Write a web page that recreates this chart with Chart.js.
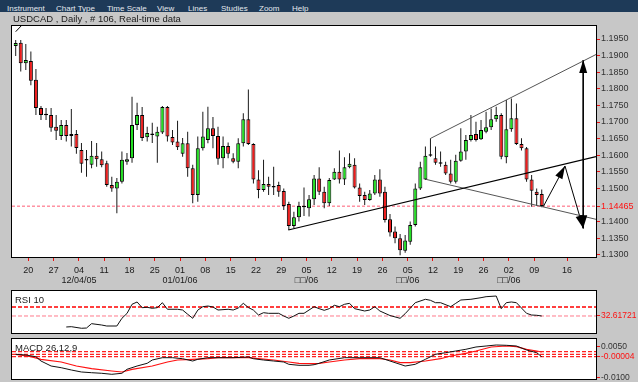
<!DOCTYPE html>
<html>
<head>
<meta charset="utf-8">
<title>USDCAD Daily</title>
<script src="https://cdn.jsdelivr.net/npm/chart.js@4/dist/chart.umd.min.js"></script>
<style>
  html, body { margin: 0; padding: 0; }
  body { position: relative; width: 638px; height: 382px; overflow: hidden; background: #c7c7c7; font-family: "Liberation Sans", Arial, sans-serif; }
  canvas { position: absolute; left: 0; }
  #menu { position: absolute; left: 0; top: 0; width: 638px; height: 12px; background: #1e3a58; overflow: hidden; }
  #menu span { position: absolute; top: 4px; font-size: 8px; line-height: 9px; color: #e4e9ee; white-space: nowrap; }
  #title { position: absolute; left: 13px; top: 13px; font-size: 9.5px; line-height: 11px; color: #1a1a1a; white-space: nowrap; }
  .panel { position: absolute; left: 15px; font-size: 9.5px; line-height: 11px; color: #1a1a1a; white-space: nowrap; }
</style>
</head>
<body>
<canvas id="priceChart" width="638" height="271" style="top:16px"></canvas>
<canvas id="rsiChart" width="638" height="62" style="top:281px"></canvas>
<canvas id="macdChart" width="638" height="62" style="top:329px"></canvas>
<div id="menu">
  <span style="left:7px">Instrument</span>
  <span style="left:56px">Chart Type</span>
  <span style="left:107px">Time Scale</span>
  <span style="left:157px">View</span>
  <span style="left:188px">Lines</span>
  <span style="left:221px">Studies</span>
  <span style="left:259px">Zoom</span>
  <span style="left:292px">Help</span>
</div>
<div id="title">USDCAD , Daily , # 106, Real-time data</div>
<div class="panel" style="top:294px">RSI 10</div>
<div class="panel" style="top:342px">MACD 26,12,9</div>
<script>
Chart.defaults.font.family = '"Liberation Sans", Arial, sans-serif';
Chart.defaults.animation = false;

// daily candles, index 0 = first bar on the left
const candleOpen = [
  1.1929, 1.1939, 1.1877, 1.1884, 1.1827, 1.1742, 1.1721, 1.1721, 1.1686, 1.1658,
  1.1691, 1.1658, 1.1664, 1.1616, 1.1584, 1.1571, 1.1598, 1.1588, 1.1576, 1.1510,
  1.1500, 1.1520, 1.1580, 1.1591, 1.1691, 1.1721, 1.1654, 1.1664, 1.1656, 1.1668,
  1.1745, 1.1655, 1.1641, 1.1604, 1.1636, 1.1561, 1.1480, 1.1621, 1.1646, 1.1681,
  1.1658, 1.1591, 1.1628, 1.1591, 1.1580, 1.1636, 1.1708, 1.1634, 1.1527, 1.1495,
  1.1513, 1.1503, 1.1510, 1.1492, 1.1453, 1.1387, 1.1413, 1.1447, 1.1440, 1.1467,
  1.1530, 1.1490, 1.1455, 1.1527, 1.1550, 1.1527, 1.1564, 1.1571, 1.1503, 1.1480,
  1.1465, 1.1485, 1.1527, 1.1490, 1.1407, 1.1370, 1.1350, 1.1312, 1.1339, 1.1390,
  1.1500, 1.1527, 1.1598, 1.1591, 1.1577, 1.1571, 1.1545, 1.1520, 1.1583, 1.1611,
  1.1646, 1.1664, 1.1648, 1.1671, 1.1684, 1.1708, 1.1721, 1.1594, 1.1678, 1.1711,
  1.1634, 1.1621, 1.1527, 1.1490, 1.1483
];
const candleHigh = [
  1.1947, 1.1947, 1.1935, 1.1912, 1.1860, 1.1748, 1.1742, 1.1742, 1.1721, 1.1706,
  1.1706, 1.1739, 1.1676, 1.1637, 1.1616, 1.1643, 1.1637, 1.1611, 1.1583, 1.1535,
  1.1531, 1.1611, 1.1607, 1.1776, 1.1758, 1.1745, 1.1686, 1.1698, 1.1686, 1.1748,
  1.1748, 1.1676, 1.1704, 1.1652, 1.1671, 1.1571, 1.1656, 1.1731, 1.1746, 1.1715,
  1.1686, 1.1656, 1.1638, 1.1606, 1.1651, 1.1726, 1.1798, 1.1636, 1.1555, 1.1586,
  1.1535, 1.1565, 1.1520, 1.1500, 1.1460, 1.1430, 1.1460, 1.1503, 1.1480, 1.1540,
  1.1564, 1.1505, 1.1531, 1.1561, 1.1614, 1.1594, 1.1606, 1.1591, 1.1515, 1.1490,
  1.1495, 1.1540, 1.1558, 1.1505, 1.1423, 1.1385, 1.1363, 1.1360, 1.1400, 1.1515,
  1.1580, 1.1626, 1.1651, 1.1626, 1.1611, 1.1580, 1.1586, 1.1601, 1.1681, 1.1661,
  1.1721, 1.1701, 1.1706, 1.1731, 1.1741, 1.1746, 1.1726, 1.1766, 1.1771, 1.1756,
  1.1651, 1.1625, 1.1540, 1.1500, 1.1497
];
const candleLow = [
  1.1899, 1.1852, 1.1857, 1.1811, 1.1721, 1.1706, 1.1706, 1.1671, 1.1646, 1.1646,
  1.1641, 1.1626, 1.1604, 1.1547, 1.1535, 1.1561, 1.1565, 1.1564, 1.1505, 1.1490,
  1.1425, 1.1515, 1.1571, 1.1577, 1.1676, 1.1643, 1.1641, 1.1637, 1.1577, 1.1664,
  1.1641, 1.1631, 1.1616, 1.1595, 1.1535, 1.1455, 1.1460, 1.1614, 1.1636, 1.1621,
  1.1571, 1.1561, 1.1591, 1.1576, 1.1561, 1.1626, 1.1631, 1.1515, 1.1470, 1.1490,
  1.1480, 1.1480, 1.1475, 1.1435, 1.1375, 1.1380, 1.1400, 1.1417, 1.1415, 1.1450,
  1.1480, 1.1440, 1.1447, 1.1525, 1.1515, 1.1510, 1.1561, 1.1500, 1.1460, 1.1450,
  1.1463, 1.1480, 1.1475, 1.1397, 1.1355, 1.1335, 1.1299, 1.1306, 1.1330, 1.1385,
  1.1495, 1.1525, 1.1595, 1.1571, 1.1565, 1.1540, 1.1515, 1.1515, 1.1580, 1.1586,
  1.1641, 1.1641, 1.1646, 1.1666, 1.1676, 1.1701, 1.1588, 1.1576, 1.1671, 1.1631,
  1.1614, 1.1520, 1.1445, 1.1447, 1.1443
];
const candleClose = [
  1.1938, 1.1877, 1.1887, 1.1824, 1.1742, 1.1721, 1.1720, 1.1683, 1.1674, 1.1691,
  1.1658, 1.1664, 1.1622, 1.1574, 1.1587, 1.1598, 1.1588, 1.1570, 1.1510, 1.1500,
  1.1520, 1.1586, 1.1588, 1.1691, 1.1721, 1.1652, 1.1667, 1.1661, 1.1671, 1.1745,
  1.1656, 1.1638, 1.1624, 1.1636, 1.1561, 1.1480, 1.1621, 1.1656, 1.1681, 1.1658,
  1.1589, 1.1628, 1.1604, 1.1580, 1.1636, 1.1708, 1.1634, 1.1527, 1.1495, 1.1513,
  1.1505, 1.1507, 1.1490, 1.1447, 1.1387, 1.1413, 1.1447, 1.1443, 1.1467, 1.1530,
  1.1490, 1.1455, 1.1525, 1.1550, 1.1527, 1.1564, 1.1574, 1.1503, 1.1477, 1.1465,
  1.1485, 1.1527, 1.1485, 1.1405, 1.1367, 1.1350, 1.1314, 1.1343, 1.1390, 1.1500,
  1.1564, 1.1598, 1.1601, 1.1577, 1.1574, 1.1545, 1.1520, 1.1583, 1.1611, 1.1646,
  1.1661, 1.1646, 1.1676, 1.1684, 1.1708, 1.1721, 1.1595, 1.1678, 1.1711, 1.1634,
  1.1621, 1.1527, 1.1493, 1.1480, 1.1447
];

// price axis
const priceTicks = [1.1300, 1.1350, 1.1400, 1.14465, 1.1500, 1.1550, 1.1600, 1.1650, 1.1700, 1.1750, 1.1800, 1.1850, 1.1900, 1.1950];
const markPrice = 1.14465;
const priceMin = 1.129337;
const priceMax = 1.198916;

// date axis (ticks sit on Sundays, between Friday and Monday bars)
const dateTickIdx = [2.5, 7.5, 12.5, 17.5, 22.5, 27.5, 32.5, 37.5, 42.5, 47.5, 52.5, 57.5, 62.5, 67.5, 72.5, 77.5, 82.5, 87.5, 92.5, 97.5, 102.5, 109];
const dayLabels = ['20', '27', '04', '11', '18', '25', '01', '08', '15', '22', '29', '05', '12', '19', '26', '05', '12', '19', '26', '02', '09', '16'];
const monthLabels = ['', '', '12/04/05', '', '', '', '01/01/06', '', '', '', '', '\u25A1\u25A1/06', '', '', '', '\u25A1\u25A1/06', '', '', '', '\u25A1\u25A1/06', '', ''];
const xMin = -0.73;
const xMax = 114.73;

// drawn objects: [bar index, price]
const supportLine = [[53.9, 1.13747], [114.73, 1.15955]];
const channelTop = [[82.05, 1.16509], [114.73, 1.19033]];
const channelBottom = [[81.06, 1.15274], [114.73, 1.14069]];
const arrowUp = [[104.3, 1.14449], [108.6, 1.15675]];
const arrowDown = [[108.6, 1.15675], [112.2, 1.13798]];
const arrowRange = [[112.2, 1.18867], [112.2, 1.13798]];
const cornerLine = [[0, 1.19720], [1.25, 1.19922]];

// RSI 10
const rsiIdx = [10, 11, 13, 14, 15, 17, 18, 20, 21, 22, 23, 24, 25, 26, 27, 28, 29, 30, 32, 33,
  34, 35, 36, 37, 38, 39, 40, 42, 43, 44, 45, 46, 47, 48, 49, 50, 52, 53, 54, 55,
  56, 57, 59, 60, 61, 62, 63, 64, 65, 66, 67, 69, 70, 71, 72, 74, 76, 77, 79, 81,
  82, 83, 84, 86, 87, 88, 90, 92, 93, 95, 96, 97, 98, 99, 100, 101, 102, 103, 104];
const rsiVal = [11.4, 12.0, 8.9, 9.4, 17.8, 15.2, 13.3, 13.3, 28.2, 37.5, 55.2, 59.7, 48.7, 49.4, 47.5, 48.7, 58.3, 45.6, 45.6, 44.2,
  36.0, 28.2, 44.0, 50.6, 51.9, 50.0, 44.2, 45.6, 44.2, 48.0, 57.1, 49.0, 44.0, 34.5, 39.0, 37.8, 37.8, 32.6, 28.2, 32.6,
  37.8, 37.8, 50.6, 46.8, 43.6, 46.8, 53.3, 50.6, 55.2, 57.1, 46.8, 42.3, 44.2, 50.6, 42.3, 33.5, 28.2, 37.1, 58.3, 64.9,
  62.9, 58.3, 58.3, 50.6, 57.1, 63.5, 64.9, 68.0, 69.9, 71.2, 46.8, 58.3, 59.7, 58.3, 48.0, 37.8, 34.5, 34.0, 32.61721];
const rsiLast = 32.61721;
const rsiMid = 50;

// MACD 26,12,9
const macdIdx = [0, 2, 4, 5, 7, 9, 11, 13, 15, 17, 19, 21, 22, 24, 26, 27, 29, 31, 33, 35,
  36, 38, 40, 43, 46, 47, 49, 51, 53, 54, 56, 58, 59, 60, 62, 65, 68, 72, 74, 76,
  77, 79, 81, 83, 85, 87, 89, 91, 93, 95, 97, 99, 101, 103, 104];
const macdVal = [0.00111, 0.00077, -0.00005, -0.00213, -0.00455, -0.00537, -0.00649, -0.00745, -0.00779, -0.00808,
  -0.00857, -0.00808, -0.00615, -0.00455, -0.00324, -0.00165, -0.00053, -0.00053, -0.00102, -0.00213,
  -0.00131, -0.00053, -0.00053, -0.00053, -0.00019, -0.00102, -0.00165, -0.00213, -0.00261, -0.00373,
  -0.00421, -0.00421, -0.00392, -0.00324, -0.00165, -0.00053, -0.00053, -0.00053, -0.00213, -0.00373,
  -0.00455, -0.00373, -0.00131, 0.00111, 0.00189, 0.00271, 0.00353, 0.00465, 0.00513, 0.00561,
  0.00547, 0.00513, 0.00319, 0.00189, -0.00004];
const signalIdx = [0, 3, 5, 9, 12, 15, 19, 21, 23, 27, 30, 32, 35, 38, 40, 43, 46, 48, 51, 54,
  56, 59, 60, 62, 65, 68, 72, 74, 76, 78, 81, 84, 86, 89, 91, 94, 97, 99, 101, 103, 104];
const signalVal = [0.00111, -0.00005, -0.00131, -0.00261, -0.00455, -0.00586, -0.00697, -0.00745, -0.00615, -0.00455,
  -0.00261, -0.00165, -0.00131, -0.00102, -0.00053, -0.00053, -0.00053, -0.00102, -0.00165, -0.00261,
  -0.00324, -0.00344, -0.00324, -0.00261, -0.00165, -0.00102, -0.00102, -0.00165, -0.00295, -0.00295,
  -0.00213, -0.00102, 0.00029, 0.0016, 0.00271, 0.00465, 0.00513, 0.00479, 0.00353, 0.00271, 0.00223];
const macdLevels = [0.00237, 0.00111, -0.00004];
const macdTicks = [0.0050, -0.00004, -0.0100];
const macdTickText = ['0.0050', '-0.00004', '-0.0100'];
const macdMin = -0.0108416;
const macdMax = 0.0085184;

const framePlugin = {
  id: 'frame',
  beforeDraw(chart) {
    const { ctx, chartArea: a } = chart;
    ctx.save();
    ctx.fillStyle = '#ffffff';
    ctx.fillRect(a.left, a.top, a.right - a.left, a.bottom - a.top);
    ctx.restore();
  },
  afterDraw(chart) {
    const { ctx, chartArea: a } = chart;
    ctx.save();
    ctx.strokeStyle = '#000000';
    ctx.lineWidth = 1;
    ctx.strokeRect(a.left - 0.5, a.top - 0.5, a.right - a.left + 1, a.bottom - a.top + 1);
    ctx.restore();
  }
};

const arrowPlugin = {
  id: 'arrowHeads',
  afterDatasetsDraw(chart) {
    const ctx = chart.ctx;
    chart.data.datasets.forEach((ds, di) => {
      if (!ds.heads) return;
      const pts = chart.getDatasetMeta(di).data;
      ds.heads.forEach((end) => {
        const tip = end === 'end' ? pts[pts.length - 1] : pts[0];
        const tail = end === 'end' ? pts[pts.length - 2] : pts[1];
        const ang = Math.atan2(tip.y - tail.y, tip.x - tail.x);
        const len = 13, half = 4;
        const bx = tip.x - len * Math.cos(ang);
        const by = tip.y - len * Math.sin(ang);
        ctx.save();
        ctx.fillStyle = '#000000';
        ctx.beginPath();
        ctx.moveTo(tip.x, tip.y);
        ctx.lineTo(bx + half * Math.sin(ang), by - half * Math.cos(ang));
        ctx.lineTo(bx - half * Math.sin(ang), by + half * Math.cos(ang));
        ctx.closePath();
        ctx.fill();
        ctx.restore();
      });
    });
  }
};

function lineSet(points, color, width, extra) {
  return Object.assign({
    type: 'line',
    data: points.map((p) => ({ x: p[0], y: p[1] })),
    borderColor: color,
    borderWidth: width,
    pointRadius: 0,
    fill: false,
    tension: 0,
    order: 0,
  }, extra || {});
}

function rightAxis(min, max, ticks, text, color, size) {
  return {
    type: 'linear',
    position: 'right',
    min: min,
    max: max,
    grid: { drawOnChartArea: false, tickLength: 4, tickColor: '#ee1111' },
    border: { display: false },
    afterBuildTicks: (s) => { s.ticks = ticks.map((v) => ({ value: v })); },
    afterFit: (s) => { s.width = 42; },
    ticks: { autoSkip: false, padding: 1, font: { size: size || 9 }, color: color, callback: text },
  };
}

const noPlugins = { legend: { display: false }, tooltip: { enabled: false } };

// ---- price panel
const bodyColors = candleOpen.map((o, i) => (candleClose[i] >= o ? '#22e022' : '#f01c1c'));

new Chart(document.getElementById('priceChart'), {
  type: 'bar',
  data: {
    datasets: [
      lineSet(supportLine, '#000000', 1.2),
      lineSet(channelTop, '#555555', 1),
      lineSet(channelBottom, '#555555', 1),
      lineSet(arrowUp, '#000000', 1, { heads: ['end'] }),
      lineSet(arrowDown, '#000000', 1, { heads: ['end'] }),
      lineSet(arrowRange, '#000000', 1, { heads: ['start', 'end'] }),
      lineSet(cornerLine, '#000000', 1),
      {
        type: 'bar',
        data: candleOpen.map((o, i) => ({ x: i, y: [o, candleClose[i]] })),
        backgroundColor: bodyColors,
        borderColor: '#000000',
        borderWidth: 1,
        borderSkipped: false,
        barThickness: 4,
        minBarLength: 1.5,
        grouped: false,
        inflateAmount: 0,
        order: 1,
      },
      {
        type: 'bar',
        data: candleLow.map((l, i) => ({ x: i, y: [l, candleHigh[i]] })),
        backgroundColor: '#1a1a1a',
        borderWidth: 0,
        barThickness: 1,
        grouped: false,
        inflateAmount: 0,
        order: 2,
      },
      lineSet([[xMin, markPrice], [xMax, markPrice]], '#ff5c74', 1, { borderDash: [3, 2], order: 3 }),
    ],
  },
  options: {
    responsive: false,
    animation: false,
    layout: { padding: { left: 12, top: 10, right: 0, bottom: 0 } },
    plugins: noPlugins,
    scales: {
      x: {
        type: 'linear',
        min: xMin,
        max: xMax,
        offset: false,
        grid: { drawOnChartArea: false, tickLength: 4, tickColor: '#ee1111', offset: false },
        border: { display: false },
        afterBuildTicks: (s) => { s.ticks = dateTickIdx.map((v) => ({ value: v })); },
        afterFit: (s) => { s.height = 30; },
        ticks: {
          autoSkip: false,
          maxRotation: 0,
          minRotation: 0,
          padding: 4,
          color: '#1a1a1a',
          font: { size: 9, lineHeight: 1.15 },
          callback: (v) => {
            const k = dateTickIdx.indexOf(v);
            return monthLabels[k] ? [dayLabels[k], monthLabels[k]] : dayLabels[k];
          },
        },
      },
      y: rightAxis(priceMin, priceMax, priceTicks,
        (v) => (v === markPrice ? '1.14465' : v.toFixed(4)),
        (c) => (c.tick && c.tick.value === markPrice ? '#ff1010' : '#333333')),
    },
  },
  plugins: [framePlugin, arrowPlugin],
});

// ---- RSI panel
new Chart(document.getElementById('rsiChart'), {
  type: 'line',
  data: {
    datasets: [
      lineSet(rsiIdx.map((x, k) => [x, rsiVal[k]]), '#111111', 1),
      lineSet([[xMin, rsiMid], [xMax, rsiMid]], '#ff0000', 1.5, { borderDash: [4, 2], order: 1 }),
      lineSet([[xMin, rsiLast], [xMax, rsiLast]], '#ff7a8a', 1, { borderDash: [4, 2], order: 1 }),
    ],
  },
  options: {
    responsive: false,
    animation: false,
    layout: { padding: { left: 12, top: 10, right: 0, bottom: 10 } },
    plugins: noPlugins,
    scales: {
      x: { type: 'linear', min: xMin, max: xMax, display: false },
      y: rightAxis(-0.219, 80.904, [rsiLast], (v) => String(v), '#ff1010', 8.5),
    },
  },
  plugins: [framePlugin],
});

// ---- MACD panel
new Chart(document.getElementById('macdChart'), {
  type: 'line',
  data: {
    datasets: [
      lineSet(macdIdx.map((x, k) => [x, macdVal[k]]), '#111111', 1),
      lineSet(signalIdx.map((x, k) => [x, signalVal[k]]), '#ff1010', 1.2),
      ...macdLevels.map((lv) => lineSet([[xMin, lv], [xMax, lv]], '#ff2020', 1.2, { borderDash: [4, 2], order: 1 })),
    ],
  },
  options: {
    responsive: false,
    animation: false,
    layout: { padding: { left: 12, top: 10, right: 0, bottom: 12 } },
    plugins: noPlugins,
    scales: {
      x: { type: 'linear', min: xMin, max: xMax, display: false },
      y: rightAxis(macdMin, macdMax, macdTicks,
        (v) => macdTickText[macdTicks.indexOf(v)],
        (c) => (c.tick && c.tick.value === -0.00004 ? '#ff1010' : '#333333'), 8.5),
    },
  },
  plugins: [framePlugin],
});
</script>
</body>
</html>
